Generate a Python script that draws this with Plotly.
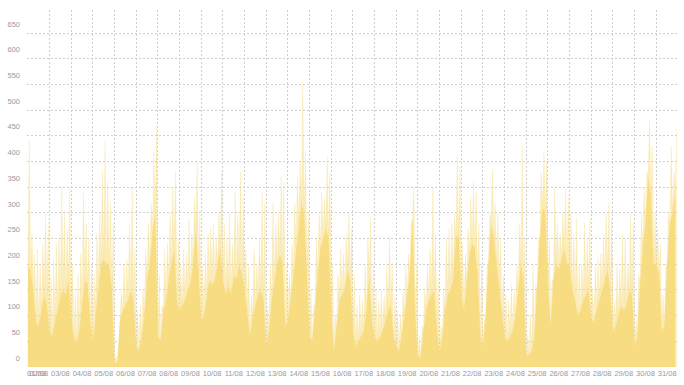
import plotly.graph_objects as go
from datetime import datetime, timedelta

# Tick labels (one per day of August shown)
day_labels = ["01/08", "02/08", "03/08", "04/08", "05/08", "06/08", "07/08", "08/08",
              "09/08", "10/08", "11/08", "12/08", "13/08", "14/08", "15/08", "16/08",
              "17/08", "18/08", "19/08", "20/08", "21/08", "22/08", "23/08", "24/08",
              "25/08", "26/08", "27/08", "28/08", "29/08", "30/08", "31/08"]

y_ticks = [0, 50, 100, 150, 200, 250, 300, 350, 400, 450, 500, 550, 600, 650]

# 3-hourly readings from 02/08 00:00 to 31/08 21:00 (8 per day)
# high value reached within each 3-hour slot
peak_values = [
    440, 260, 220, 230, 200, 240, 300, 280,   # 02/08
    180, 210, 240, 260, 350, 300, 270, 350,   # 03/08
    200, 150, 180, 220, 340, 280, 250, 200,   # 04/08
    180, 260, 300, 380, 440, 360, 320, 280,   # 05/08
    20, 40, 150, 200, 210, 280, 350, 230,     # 06/08
    110, 120, 150, 230, 280, 320, 420, 470,   # 07/08
    180, 120, 230, 240, 300, 350, 380, 250,   # 08/08
    200, 230, 220, 290, 260, 330, 400, 300,   # 09/08
    200, 220, 260, 270, 280, 250, 300, 380,   # 10/08
    280, 250, 300, 240, 340, 300, 380, 330,   # 11/08
    230, 200, 140, 230, 200, 250, 340, 320,   # 12/08
    120, 200, 320, 280, 300, 370, 360, 200,   # 13/08
    180, 240, 320, 370, 400, 555, 420, 300,   # 14/08
    150, 120, 250, 300, 340, 330, 410, 380,   # 15/08
    200, 100, 180, 230, 220, 260, 300, 270,   # 16/08
    180, 120, 140, 130, 200, 250, 290, 200,   # 17/08
    150, 130, 150, 140, 200, 255, 200, 140,   # 18/08
    110, 100, 150, 200, 220, 280, 350, 200,   # 19/08
    60, 80, 150, 200, 230, 350, 260, 170,     # 20/08
    80, 150, 250, 270, 280, 300, 410, 390,    # 21/08
    240, 220, 270, 330, 360, 340, 280, 200,   # 22/08
    90, 200, 300, 385, 320, 300, 250, 180,    # 23/08
    140, 130, 160, 150, 200, 280, 430, 250,   # 24/08
    60, 100, 200, 160, 250, 380, 420, 400,    # 25/08
    250, 170, 350, 280, 260, 300, 345, 330,   # 26/08
    300, 260, 290, 200, 200, 280, 250, 290,   # 27/08
    150, 200, 210, 220, 260, 300, 320, 290,   # 28/08
    130, 200, 190, 260, 250, 200, 300, 280,   # 29/08
    90, 180, 300, 350, 380, 480, 430, 300,    # 30/08
    270, 240, 140, 200, 300, 430, 380, 470,   # 31/08
]

# low value within each 3-hour slot
base_values = [
    200, 185, 150, 85, 80, 110, 140, 120,     # 02/08
    70, 60, 90, 110, 140, 150, 140, 170,      # 03/08
    100, 55, 50, 70, 120, 170, 160, 90,       # 04/08
    50, 100, 160, 200, 210, 200, 200, 150,    # 05/08
    5, 10, 90, 110, 120, 130, 150, 130,       # 06/08
    40, 30, 60, 100, 170, 200, 260, 300,      # 07/08
    60, 50, 110, 130, 170, 200, 230, 130,     # 08/08
    110, 120, 130, 150, 160, 200, 270, 180,   # 09/08
    90, 100, 140, 170, 160, 170, 200, 230,    # 10/08
    170, 140, 160, 140, 180, 170, 200, 180,   # 11/08
    150, 110, 60, 100, 120, 140, 150, 130,    # 12/08
    40, 70, 130, 170, 200, 220, 200, 80,      # 13/08
    90, 130, 180, 230, 280, 320, 300, 180,    # 14/08
    60, 50, 120, 180, 230, 250, 270, 250,     # 15/08
    110, 30, 80, 130, 140, 150, 190, 170,     # 16/08
    70, 40, 50, 60, 70, 110, 180, 90,         # 17/08
    60, 50, 60, 70, 90, 110, 120, 60,         # 18/08
    40, 30, 60, 100, 130, 180, 290, 100,      # 19/08
    20, 20, 70, 110, 130, 140, 150, 70,       # 20/08
    30, 60, 110, 140, 150, 170, 250, 260,     # 21/08
    140, 110, 160, 220, 240, 230, 180, 60,    # 22/08
    40, 100, 200, 280, 250, 200, 160, 100,    # 23/08
    60, 50, 60, 70, 100, 150, 200, 170,       # 24/08
    20, 25, 30, 60, 150, 250, 310, 300,       # 25/08
    150, 80, 170, 200, 190, 210, 230, 200,    # 26/08
    200, 150, 130, 100, 110, 130, 140, 150,   # 27/08
    90, 90, 110, 130, 150, 170, 190, 150,     # 28/08
    70, 80, 100, 120, 110, 120, 150, 140,     # 29/08
    40, 60, 160, 230, 280, 370, 330, 200,     # 30/08
    200, 180, 70, 80, 200, 280, 300, 340,     # 31/08
]

start = datetime(2024, 8, 2)
slot = timedelta(hours=3)
half = timedelta(hours=1, minutes=30)

# envelope series: low at slot start, high at slot middle
xs, ys = [], []
for i, (lo, hi) in enumerate(zip(base_values, peak_values)):
    t = start + i * slot
    xs.append(t)
    ys.append(lo)
    xs.append(t + half)
    ys.append(hi)

# base series: slot lows
xb = [start + i * slot for i in range(len(base_values))]

fig = go.Figure()
fig.add_trace(go.Scatter(
    x=xs, y=ys, mode="lines", fill="tozeroy",
    line=dict(width=0.6, color="rgba(247,220,130,0.4)"),
    fillcolor="rgba(247,220,130,0.55)",
    hoverinfo="skip", showlegend=False,
))
fig.add_trace(go.Scatter(
    x=xb, y=base_values, mode="lines", fill="tozeroy",
    line=dict(width=0, color="#F7DC82"),
    fillcolor="#F7DC82",
    hoverinfo="skip", showlegend=False,
))

# label positions: noon of each day; first (partial) day's label pinned near the left edge
tick_pos = [start + timedelta(hours=9, minutes=30)]
tick_pos += [start + timedelta(days=k, hours=12) for k in range(30)]
midnights = [start + timedelta(days=k) for k in range(30)]

grid_col = "#cfcfcf"
font = dict(family="Liberation Sans, Arial, sans-serif", size=7.5, color="#9a9a9a")

fig.update_layout(
    width=684, height=385,
    margin=dict(l=27, r=6, t=10, b=18, autoexpand=False),
    paper_bgcolor="white", plot_bgcolor="white",
    showlegend=False,
    xaxis=dict(
        type="date",
        range=[start - timedelta(hours=1), start + timedelta(days=30)],
        tickmode="array", tickvals=tick_pos, ticktext=day_labels,
        tickangle=0, automargin=False,
        showgrid=False, zeroline=False, showline=False, ticks="",
        tickfont=font,
        minor=dict(tickmode="array", tickvals=midnights, showgrid=True,
                   gridcolor=grid_col, griddash="2px,2px", gridwidth=1, ticks=""),
    ),
    yaxis=dict(
        range=[0, 695], automargin=False,
        tickmode="array", tickvals=y_ticks,
        showgrid=True, gridcolor=grid_col, griddash="2px,2px", gridwidth=1,
        zeroline=False, showline=False, ticks="",
        tickfont=font,
        ticklabelshift=-9, ticklabelstandoff=6,
    ),
)

fig.write_html("out.html")
